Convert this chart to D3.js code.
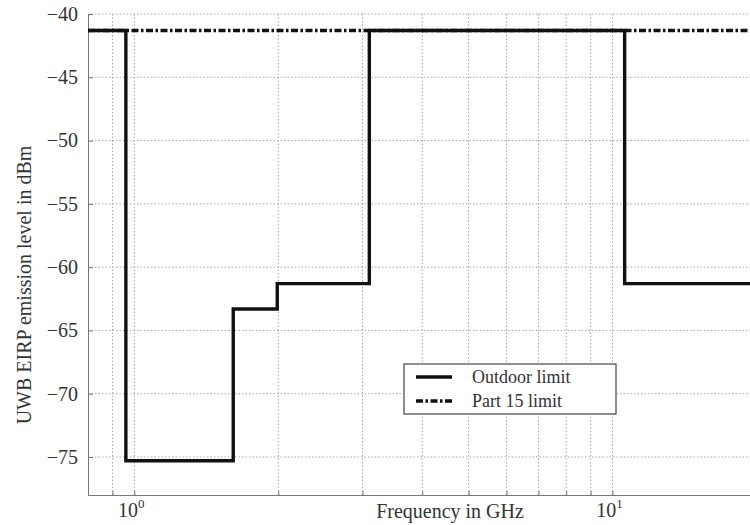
<!DOCTYPE html>
<html>
<head>
<meta charset="utf-8">
<script src="https://cdn.jsdelivr.net/npm/d3@7"></script>
<style>
  body { margin: 0; background: #fff; }
  svg, svg text { font-family: "Liberation Serif", "Times New Roman", "DejaVu Serif", serif; }
</style>
</head>
<body>
<div id="chart"></div>
<script>
// FCC UWB outdoor mask (GHz breakpoints, dBm levels)
const outdoorEdges = [0.8, 0.96, 1.61, 1.99, 3.1, 10.6, 20];
const outdoorLevels = [-41.3, -75.3, -63.3, -61.3, -41.3, -61.3];
const part15Level = -41.3;
const yTicks = [-40, -45, -50, -55, -60, -65, -70, -75];
const xGrid = [0.9, 1, 2, 3, 4, 5, 6, 7, 8, 9, 10, 20];
const xLabels = [{ v: 1, exp: '0' }, { v: 10, exp: '1' }];
const legendItems = ['Outdoor limit', 'Part 15 limit'];

const width = 750, height = 525;
const svg = d3.select('#chart').append('svg')
  .attr('width', width)
  .attr('height', height);

const x = d3.scaleLog().domain([0.8, 20]).range([88, 756.5]);
const y = d3.scaleLinear().domain([-78, -40]).range([495, 14]);

const plot = svg.append('g');

// grid
plot.append('g').selectAll('line')
  .data(yTicks)
  .join('line')
  .attr('x1', x.range()[0]).attr('x2', x.range()[1])
  .attr('y1', d => y(d)).attr('y2', d => y(d))
  .attr('stroke', '#a8a8a8')
  .attr('stroke-width', 1)
  .attr('stroke-dasharray', '1.5 2');

plot.append('g').selectAll('line')
  .data(xGrid)
  .join('line')
  .attr('x1', d => x(d)).attr('x2', d => x(d))
  .attr('y1', y.range()[0]).attr('y2', y.range()[1])
  .attr('stroke', '#a8a8a8')
  .attr('stroke-width', 1)
  .attr('stroke-dasharray', '1.5 2');

// axes
const yAxis = plot.append('g')
  .attr('transform', `translate(${x.range()[0]},0)`)
  .call(d3.axisLeft(y).tickValues(yTicks).tickSize(-5).tickPadding(10)
    .tickFormat(d => '\u2212' + Math.abs(d)));
yAxis.attr('font-family', null);
yAxis.select('.domain').attr('stroke', '#777');
yAxis.selectAll('.tick line').attr('stroke', '#777');
yAxis.selectAll('text').attr('font-size', 20).attr('fill', '#333');

const xAxis = plot.append('g')
  .attr('transform', `translate(0,${y.range()[0]})`)
  .call(d3.axisBottom(x).tickValues(xGrid).tickSize(-4).tickFormat(''));
xAxis.select('.domain').attr('stroke', '#777');
xAxis.selectAll('.tick line').attr('stroke', '#777');

const xl = plot.append('g').selectAll('text')
  .data(xLabels)
  .join('text')
  .attr('x', d => x(d.v) - 3)
  .attr('y', 517)
  .attr('text-anchor', 'middle')
  .attr('font-size', 20)
  .attr('fill', '#333');
xl.append('tspan').text('10');
xl.append('tspan').text(d => d.exp).attr('font-size', 13).attr('dy', -9);

// axis titles
svg.append('text')
  .attr('x', 450).attr('y', 518)
  .attr('text-anchor', 'middle')
  .attr('font-size', 20)
  .attr('fill', '#333')
  .text('Frequency in GHz');

svg.append('text')
  .attr('transform', 'translate(31,285) rotate(-90)')
  .attr('text-anchor', 'middle')
  .attr('font-size', 20)
  .attr('fill', '#333')
  .text('UWB EIRP emission level in dBm');

// part 15 limit
const p15 = [[x.domain()[0], part15Level], [x.domain()[1], part15Level]];
const line = d3.line().x(d => x(d[0])).y(d => y(d[1]));

// outdoor limit as step line
const outdoorPts = [];
outdoorLevels.forEach((lv, i) => {
  outdoorPts.push([outdoorEdges[i], lv]);
  outdoorPts.push([outdoorEdges[i + 1], lv]);
});

plot.append('path')
  .datum(outdoorPts)
  .attr('d', line)
  .attr('fill', 'none')
  .attr('stroke', '#111')
  .attr('stroke-width', 3.4);

plot.append('path')
  .datum(p15)
  .attr('d', line)
  .attr('fill', 'none')
  .attr('stroke', '#111')
  .attr('stroke-width', 3.4)
  .attr('stroke-dasharray', '7 2.5 2.5 2.5');

// legend
const lg = svg.append('g').attr('transform', 'translate(404,364)');
lg.append('rect')
  .attr('width', 212).attr('height', 50)
  .attr('fill', '#fff')
  .attr('stroke', '#444')
  .attr('stroke-width', 1.2);
legendItems.forEach((name, i) => {
  const yy = 13 + i * 24;
  lg.append('line')
    .attr('x1', 12).attr('x2', 48)
    .attr('y1', yy).attr('y2', yy)
    .attr('stroke', '#111')
    .attr('stroke-width', 3.4)
    .attr('stroke-dasharray', i === 1 ? '7 2.5 2.5 2.5' : null);
  lg.append('text')
    .attr('x', 68).attr('y', yy + 6)
    .attr('font-size', 18)
    .attr('fill', '#333')
    .text(name);
});
</script>
</body>
</html>
